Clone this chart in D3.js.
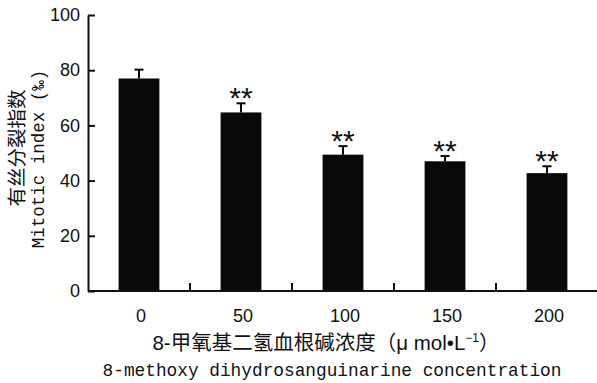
<!DOCTYPE html>
<html>
<head>
<meta charset="utf-8">
<script src="https://cdn.jsdelivr.net/npm/d3@7"></script>
<style>
  body { margin: 0; background: #fff; }
  text { fill: #111; }
</style>
</head>
<body>
<div id="chart"></div>
<script>
const doses = ["0", "50", "100", "150", "200"];
const means = [77, 64.7, 49.4, 47, 42.7];
const errs = [3.2, 3.3, 3.1, 1.9, 2.5];
const marks = ["", "**", "**", "**", "**"];
const yTicks = [0, 20, 40, 60, 80, 100];

const width = 597, height = 383;
const svg = d3.select("#chart").append("svg")
  .attr("width", width)
  .attr("height", height);

const x = d3.scaleBand().domain(doses).range([88, 598]).paddingInner(0.6).paddingOuter(0.3);
const y = d3.scaleLinear().domain([0, 100]).range([291, 15]);

const numFont = "'Liberation Sans', Arial, sans-serif";
const cjkFont = "'Noto Sans CJK SC', sans-serif";
const monoFont = "'Liberation Mono', 'DejaVu Sans Mono', monospace";

// bars
svg.selectAll("rect.bar")
  .data(doses)
  .enter().append("rect")
  .attr("class", "bar")
  .attr("x", d => x(d))
  .attr("y", (d, i) => y(means[i]))
  .attr("width", x.bandwidth())
  .attr("height", (d, i) => y(0) - y(means[i]))
  .attr("fill", "#080808");

// error bars (upper only)
const eb = svg.selectAll("g.err")
  .data(doses)
  .enter().append("g")
  .attr("class", "err")
  .attr("stroke", "#080808")
  .attr("stroke-width", 2);
eb.append("line")
  .attr("x1", d => x(d) + x.bandwidth() / 2)
  .attr("x2", d => x(d) + x.bandwidth() / 2)
  .attr("y1", (d, i) => y(means[i]))
  .attr("y2", (d, i) => y(means[i] + errs[i]));
eb.append("line")
  .attr("x1", d => x(d) + x.bandwidth() / 2 - 4.5)
  .attr("x2", d => x(d) + x.bandwidth() / 2 + 4.5)
  .attr("y1", (d, i) => y(means[i] + errs[i]))
  .attr("y2", (d, i) => y(means[i] + errs[i]));

// significance marks
svg.selectAll("text.sig")
  .data(doses)
  .enter().append("text")
  .attr("class", "sig")
  .attr("x", d => x(d) + x.bandwidth() / 2)
  .attr("y", (d, i) => y(means[i] + errs[i]) + 5)
  .attr("text-anchor", "middle")
  .style("font-family", numFont)
  .style("font-size", "30px")
  .text((d, i) => marks[i]);

// y axis
const yAxis = svg.append("g")
  .attr("transform", "translate(88,0)")
  .call(d3.axisLeft(y).tickValues(yTicks).tickSizeInner(-7).tickSizeOuter(0).tickPadding(8));
yAxis.selectAll("text")
  .style("font-family", numFont)
  .style("font-size", "18px")
  .attr("fill", "#111");

// x axis: ticks sit between the bars, pointing up
const bounds = doses.slice(1).map(d => x(d) - x.step() * x.paddingInner() / 2);
svg.append("line")
  .attr("x1", 88).attr("x2", 598)
  .attr("y1", y(0)).attr("y2", y(0))
  .attr("stroke", "#111").attr("stroke-width", 2);
svg.selectAll("line.xt")
  .data(bounds)
  .enter().append("line")
  .attr("class", "xt")
  .attr("x1", d => d).attr("x2", d => d)
  .attr("y1", y(0)).attr("y2", y(0) - 8)
  .attr("stroke", "#111").attr("stroke-width", 2);
yAxis.select(".domain").attr("stroke-width", 2).attr("stroke", "#111");
yAxis.selectAll(".tick line").attr("stroke-width", 2).attr("stroke", "#111");

svg.selectAll("text.xl")
  .data(doses)
  .enter().append("text")
  .attr("class", "xl")
  .attr("x", d => x(d) + x.bandwidth() / 2 + 2)
  .attr("y", 322)
  .attr("text-anchor", "middle")
  .style("font-family", numFont)
  .style("font-size", "18px")
  .text(d => d);

// x titles
const xt = svg.append("text")
  .attr("x", 326).attr("y", 350)
  .attr("text-anchor", "middle")
  .style("font-family", cjkFont)
  .style("font-size", "20.5px");
xt.append("tspan").style("font-family", numFont).text("8-");
xt.append("tspan").text("甲氧基二氢血根碱浓度（");
xt.append("tspan").style("font-family", numFont).text("μ mol•L");
xt.append("tspan").attr("dy", -8).style("font-family", numFont).style("font-size", "12px").text("−1");
xt.append("tspan").attr("dy", 8).text("）");

svg.append("text")
  .attr("x", 332).attr("y", 376)
  .attr("text-anchor", "middle")
  .style("font-family", monoFont)
  .style("font-size", "17.8px")
  .text("8-methoxy dihydrosanguinarine concentration");

// y titles
svg.append("text")
  .attr("transform", "translate(24,148) rotate(-90)")
  .attr("text-anchor", "middle")
  .style("font-family", cjkFont)
  .style("font-size", "19.5px")
  .text("有丝分裂指数");

svg.append("text")
  .attr("transform", "translate(44,159) rotate(-90)")
  .attr("text-anchor", "middle")
  .style("font-family", monoFont)
  .style("font-size", "17.5px")
  .text("Mitotic index (‰)");
</script>
</body>
</html>
